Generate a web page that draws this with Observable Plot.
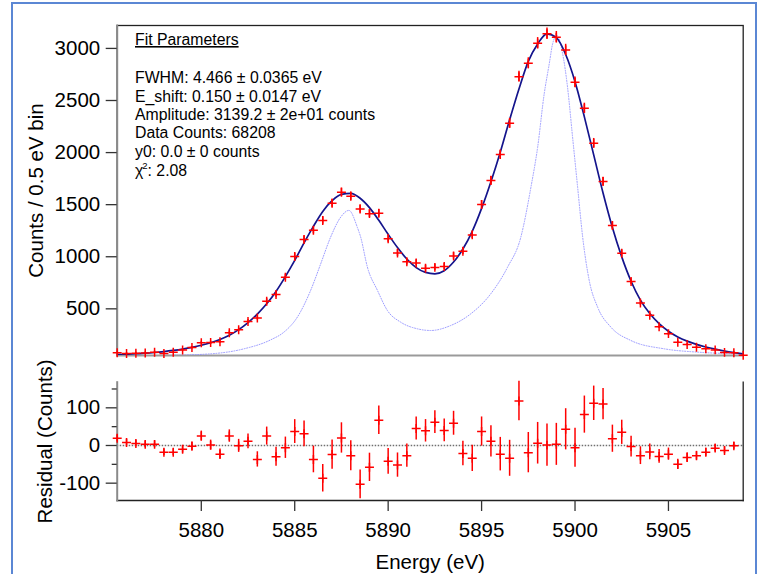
<!DOCTYPE html>
<html>
<head>
<meta charset="utf-8">
<script src="https://cdn.jsdelivr.net/npm/d3@7"></script>
<script src="https://cdn.jsdelivr.net/npm/@observablehq/plot@0.6"></script>
<style>
  html, body { margin: 0; padding: 0; background: #fff; }
  #wrap { position: relative; width: 770px; height: 574px; overflow: hidden; font-family: "Liberation Sans", Arial, Helvetica, sans-serif; }
  #border { position: absolute; left: 11px; top: 2px; width: 746px; height: 620px; border: 2px solid #5b87d4; box-sizing: border-box; }
  #top { position: absolute; left: 0; top: 0; }
  #bot { position: absolute; left: 0; top: 360px; }
  #notes { position: absolute; left: 0; top: 0; }
</style>
</head>
<body>
<div id="wrap">
  <div id="border"></div>
  <div id="top"></div>
  <div id="bot"></div>
</div>
<script>
// ---------- data ----------
const energy = [
  5875.5,5876,5876.5,5877,5877.5,5878,5878.5,5879,5879.5,5880,
  5880.5,5881,5881.5,5882,5882.5,5883,5883.5,5884,5884.5,5885,
  5885.5,5886,5886.5,5887,5887.5,5888,5888.5,5889,5889.5,5890,
  5890.5,5891,5891.5,5892,5892.5,5893,5893.5,5894,5894.5,5895,
  5895.5,5896,5896.5,5897,5897.5,5898,5898.5,5899,5899.5,5900,
  5900.5,5901,5901.5,5902,5902.5,5903,5903.5,5904,5904.5,5905,
  5905.5,5906,5906.5,5907,5907.5,5908,5908.5,5909
];
const counts = [
  79,72,74,77,84,72,83,104,128,175,
  176,183,271,299,379,413,573,637,803,1002,
  1165,1255,1348,1514,1619,1581,1459,1414,1417,1173,
  1036,951,941,889,898,906,1008,1053,1210,1501,
  1731,1981,2281,2729,2857,3049,3141,3107,2985,2675,
  2425,2090,1722,1299,1034,762,557,438,329,262,
  180,158,132,116,106,82,79,55
];
const fitCounts = [
  60,64,69,74,81,90,101,114,130,150,
  175,206,246,300,368,450,548,667,809,965,
  1134,1292,1435,1538,1599,1608,1562,1472,1350,1215,
  1088,978,896,850,836,866,949,1074,1244,1464,
  1720,2004,2315,2611,2876,3043,3140,3104,2942,2681,
  2343,1978,1612,1281,999,765,584,455,358,285,
  230,190,159,134,113,95,80,67
];
const residual = [
  19,8,5,3,3,-18,-18,-10,-2,25,
  1,-23,25,-1,11,-37,25,-30,-6,37,
  31,-37,-87,-24,20,-27,-103,-58,67,-42,
  -52,-27,45,39,62,40,59,-21,-34,37,
  11,-23,-34,118,-19,6,1,3,43,-6,
  82,112,110,18,35,-3,-27,-17,-29,-23,
  -50,-32,-27,-18,-7,-13,-1
];
const shapeEnergy = [
  5875.5,5878,5880.5,5882.28,5883.71,5884.42,5885.14,5885.85,5886.39,5886.92,
  5887.46,5887.9,5888.35,5888.53,5888.89,5889.43,5889.96,5890.67,5891.57,5892.28,
  5893.35,5894.42,5895.49,5896.39,5897.1,5897.64,5898.0,5898.35,5898.62,5898.8,
  5899.03,5899.34,5899.6,5899.87,5900.14,5900.41,5900.76,5901.21,5901.92,5902.99,
  5904.78,5906.57,5909
];
const shapeCounts = [
  42,52,68,116,202,276,420,676,932,1188,
  1380,1445,1283,1188,900,676,484,372,308,292,
  340,452,644,900,1188,1667,2051,2563,2851,3043,
  3125,2947,2627,2147,1667,1188,772,516,324,196,
  116,84,68
];
const yTicksTop = [500, 1000, 1500, 2000, 2500, 3000];
const yTicksRes = [-100, 0, 100];
const yMinorRes = [-50, 50, 150];
const xTicks = [5880, 5885, 5890, 5895, 5900, 5905];
const fitTitle = "Fit Parameters";
const fitLines = [
  "FWHM: 4.466 ± 0.0365 eV",
  "E_shift: 0.150 ± 0.0147 eV",
  "Amplitude: 3139.2 ± 2e+01 counts",
  "Data Counts: 68208",
  "y0: 0.0 ± 0 counts"
];
const chiLabel = "χ";
const chiSup = "2";
const chiValue = ": 2.08";

// ---------- derived tables ----------
const pts = energy.map((e, i) => ({e, c: counts[i], err: Math.sqrt(counts[i])}));
const fitPts = energy.map((e, i) => ({e, c: fitCounts[i]}));
const resPts = residual.map((r, i) => ({e: energy[i], r, err: Math.sqrt(counts[i])}));
const shapePts = shapeEnergy.map((e, i) => ({e, c: shapeCounts[i]}));

const RED = "#ff0000";
const FONT = "'Liberation Sans', Arial, Helvetica, sans-serif";
const FS = 20.5;
const base = {
  width: 770,
  marginLeft: 116.7,
  marginRight: 27.3,
  style: {fontFamily: FONT, fontSize: FS + "px", background: "transparent", color: "#000", overflow: "visible"}
};
const xDomain = [energy[0], energy[energy.length - 1]];

const topPlot = Plot.plot({
  ...base,
  height: 360,
  marginTop: 25,
  marginBottom: 5,
  x: {domain: xDomain, axis: null},
  y: {domain: [52, 3220]},
  marks: [
    Plot.frame({stroke: "#222", strokeWidth: 1.3}),
    Plot.frame({anchor: "left", stroke: "#8a8a8a", strokeWidth: 2}),
    Plot.frame({anchor: "bottom", stroke: "#9a9a9a", strokeWidth: 1.3}),
    Plot.axisY({
      ticks: yTicksTop, tickSize: 11, tickPadding: 6, tickFormat: d => String(d),
      fontSize: FS, stroke: "#333", strokeWidth: 1.3,
      label: "Counts / 0.5 eV bin", labelAnchor: "center", labelOffset: 88.4, labelArrow: "none"
    }),
    Plot.line(shapePts, {x: "e", y: "c", stroke: "#8c8cff", strokeOpacity: 0.85, strokeWidth: 1, strokeDasharray: "1,1.6", curve: "monotone-x", clip: true}),
    Plot.line(fitPts, {x: "e", y: "c", stroke: "#14148c", strokeWidth: 1.7, curve: "monotone-x", clip: true}),
    Plot.ruleX(pts, {x: "e", y1: d => d.c - d.err, y2: d => d.c + d.err, stroke: RED, strokeWidth: 1.5}),
    Plot.dot(pts, {x: "e", y: "c", symbol: "plus", r: 3, stroke: RED, strokeWidth: 1.5})
  ]
});
document.getElementById("top").appendChild(topPlot);

const botPlot = Plot.plot({
  ...base,
  height: 214,
  marginTop: 21.7,
  marginBottom: 74,
  x: {domain: xDomain},
  y: {domain: [-146, 168]},
  marks: [
    Plot.ruleY([0], {stroke: "#6f6f6f", strokeWidth: 1.3, strokeDasharray: "1.5,1.5"}),
    Plot.frame({anchor: "right", stroke: "#222", strokeWidth: 1.3}),
    Plot.frame({anchor: "bottom", stroke: "#222", strokeWidth: 1.5}),
    Plot.frame({anchor: "left", stroke: "#8a8a8a", strokeWidth: 2}),
    Plot.axisY({
      ticks: yTicksRes, tickSize: 11, tickPadding: 6, tickFormat: d => String(d),
      fontSize: FS, stroke: "#333", strokeWidth: 1.3,
      label: "Residual (Counts)", labelAnchor: "center", labelOffset: 79.5, labelArrow: "none"
    }),
    Plot.axisY({ticks: yMinorRes, tickSize: 5, tickFormat: () => "", stroke: "#333", strokeWidth: 1.3, label: null}),
    Plot.axisX({
      ticks: xTicks, tickSize: 11, tickPadding: 11, tickFormat: d => String(d),
      fontSize: FS, stroke: "#333", strokeWidth: 1.3,
      label: "Energy (eV)", labelAnchor: "center", labelOffset: 68.5, labelArrow: "none"
    }),
    Plot.ruleX(resPts, {x: "e", y1: d => d.r - d.err, y2: d => d.r + d.err, stroke: RED, strokeWidth: 1.5}),
    Plot.dot(resPts, {x: "e", y: "r", symbol: "plus", r: 3, stroke: RED, strokeWidth: 1.5})
  ]
});
document.getElementById("bot").appendChild(botPlot);

// ---------- fit parameter annotation ----------
const notes = d3.select("#wrap").append("svg")
  .attr("id", "notes").attr("width", 770).attr("height", 574)
  .style("position", "absolute").style("left", "0px").style("top", "0px")
  .style("font-family", FONT).style("font-size", "15.8px");
notes.append("text").attr("x", 135).attr("y", 45).style("text-decoration", "underline").text(fitTitle);
const lineStep = 18.3;
fitLines.forEach((t, i) => {
  notes.append("text").attr("x", 135).attr("y", 83.3 + i * lineStep).text(t);
});
const chi = notes.append("text").attr("x", 135).attr("y", 83.3 + 5 * lineStep + 1);
chi.append("tspan").text(chiLabel);
chi.append("tspan").attr("dx", -1).attr("dy", -6.5).style("font-size", "9.5px").text(chiSup);
chi.append("tspan").attr("dy", 6.5).text(chiValue);
</script>
</body>
</html>
